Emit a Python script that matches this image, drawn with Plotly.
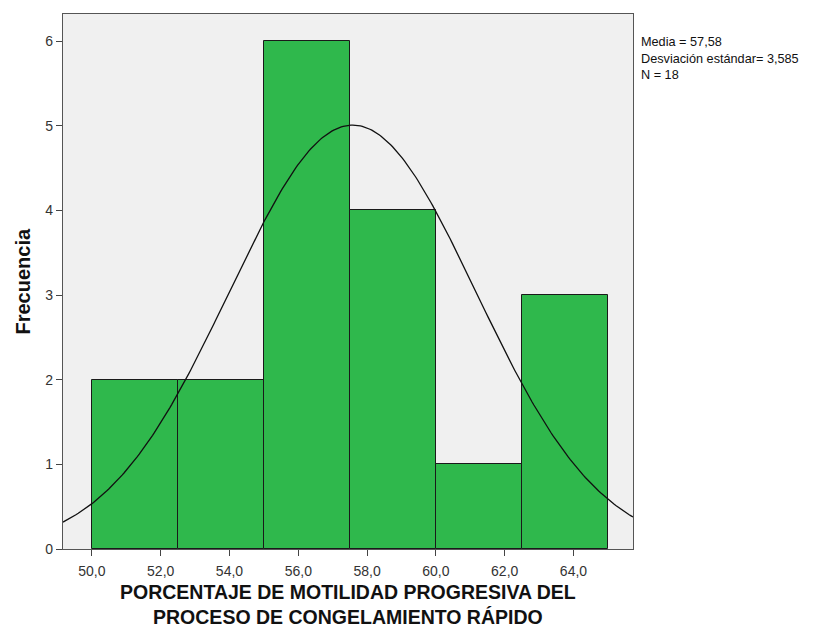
import numpy as np
import plotly.graph_objects as go

bin_edges = [50.0, 52.5, 55.0, 57.5, 60.0, 62.5, 65.0]
counts = [2, 2, 6, 4, 1, 3]
mean_val = 57.58
std_val = 3.585
n_val = 18
x_ticks = [50, 52, 54, 56, 58, 60, 62, 64]
y_ticks = [0, 1, 2, 3, 4, 5, 6]

x_range = [49.16, 65.73]
y_range = [0, 6.32]

centers = [(bin_edges[i] + bin_edges[i + 1]) / 2 for i in range(len(counts))]
widths = [bin_edges[i + 1] - bin_edges[i] for i in range(len(counts))]

fig = go.Figure()
fig.add_trace(go.Bar(
    x=centers, y=counts, width=widths,
    marker=dict(color="#2fb84c", line=dict(color="#1a1a1a", width=1)),
    showlegend=False, hoverinfo="skip",
))

bw = widths[0]
xs = np.linspace(x_range[0], x_range[1], 300)
ys = n_val * bw / (std_val * np.sqrt(2 * np.pi)) * np.exp(-0.5 * ((xs - mean_val) / std_val) ** 2)
fig.add_trace(go.Scatter(x=xs, y=ys, mode="lines", line=dict(color="#111111", width=1.3),
                         showlegend=False, hoverinfo="skip"))

title_font = dict(family="Liberation Sans, Arial, sans-serif", size=20, color="#111")

fig.update_layout(
    width=823, height=622,
    margin=dict(l=55, r=198, t=6, b=81),
    paper_bgcolor="white", plot_bgcolor="#f0f0f0",
    separators=",.",
    font=dict(family="Liberation Sans, Arial, sans-serif", color="#222222"),
    bargap=0,
    xaxis=dict(range=x_range, tickvals=x_ticks, tickformat=".1f",
               ticks="outside", ticklen=6, tickcolor="#444", tickfont=dict(size=14, color="#333"),
               ticklabelstandoff=3,
               showgrid=False, zeroline=False, showline=True, linecolor="#555", linewidth=1.2, mirror=True),
    yaxis=dict(range=y_range, tickvals=y_ticks, ticks="outside", ticklen=6, tickcolor="#444",
               tickfont=dict(size=14, color="#333"),
               showgrid=False, zeroline=False, showline=True, linecolor="#555", linewidth=1.2, mirror=True),
    annotations=[
        dict(xref="paper", yref="paper", x=0.5, y=0, xanchor="center", yanchor="middle", yshift=-55,
             text="<b>PORCENTAJE DE MOTILIDAD PROGRESIVA DEL<br>PROCESO DE CONGELAMIENTO RÁPIDO</b>",
             showarrow=False, font=dict(family="Liberation Sans, Arial, sans-serif", size=19.5, color="#111"),
             borderpad=0),
        dict(xref="paper", yref="paper", x=0, y=0.5, xanchor="center", yanchor="middle", xshift=-41,
             text="<b>Frecuencia</b>", textangle=-90, showarrow=False, font=title_font),
        dict(xref="paper", yref="paper", x=1.0, y=0.965, xanchor="left", yanchor="top", xshift=6,
             text=f"Media = {mean_val:.2f}".replace(".", ",") + "<br>" +
                  f"Desviación estándar= {std_val:.3f}".replace(".", ",") + "<br>" + f"N = {n_val}",
             showarrow=False, align="left", font=dict(size=12.7, color="#111")),
    ],
)

fig.write_html("out.html")
